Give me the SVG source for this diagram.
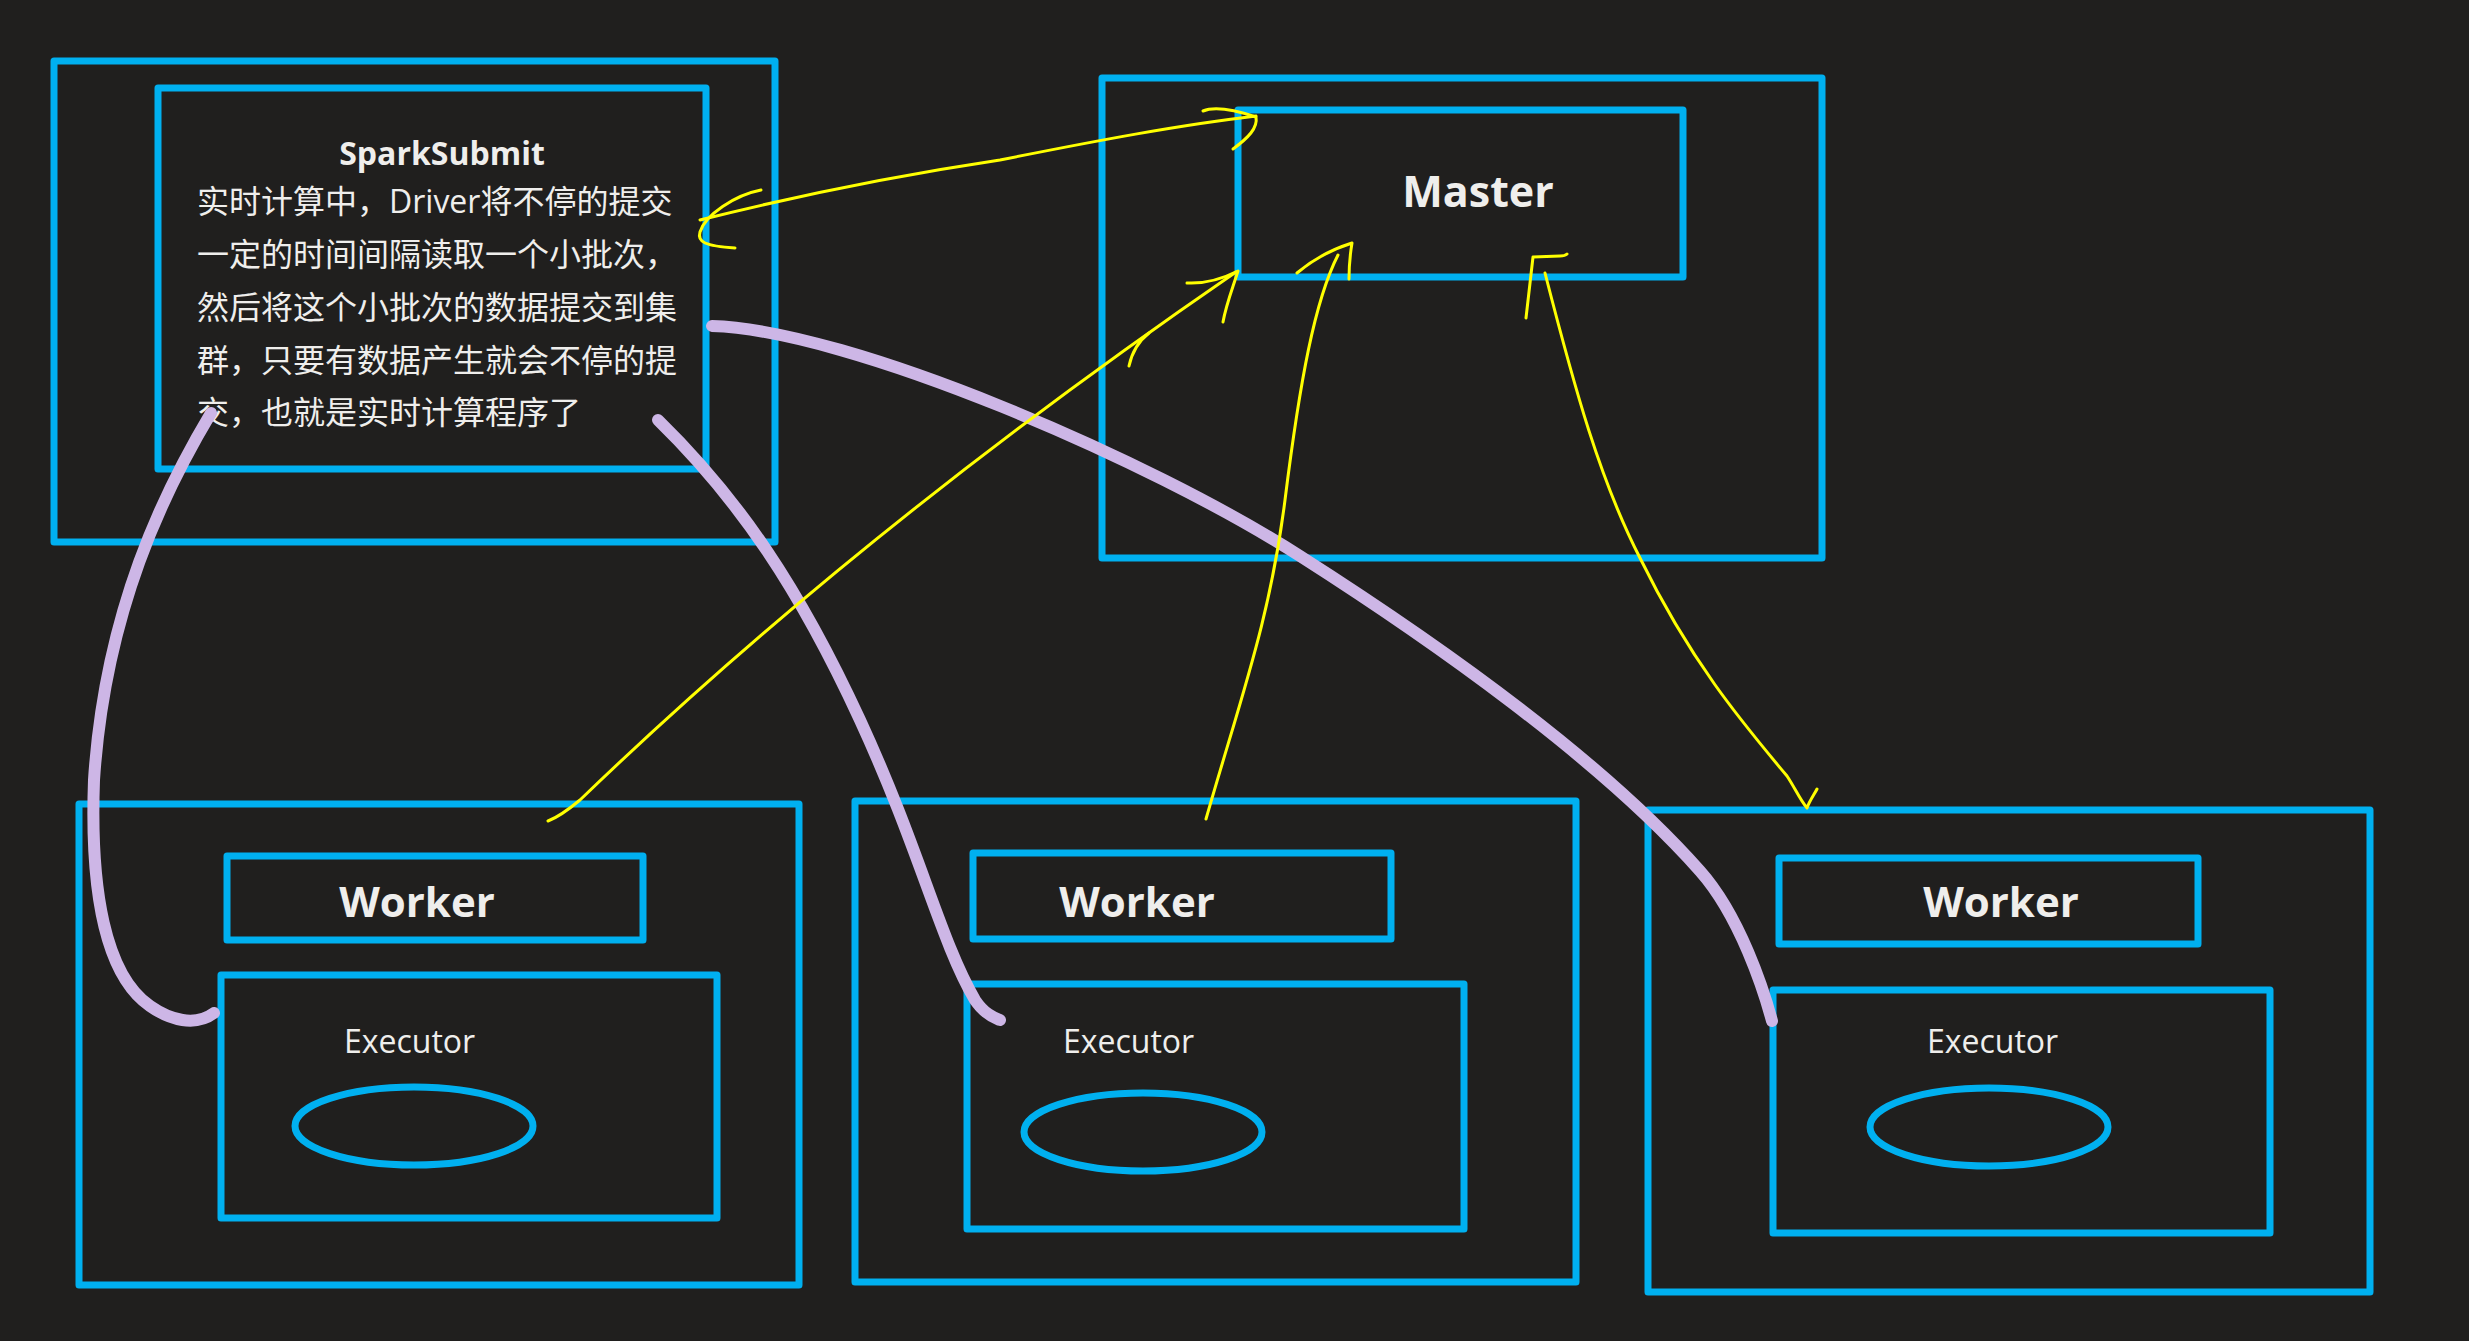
<svg xmlns="http://www.w3.org/2000/svg" width="2469" height="1341" viewBox="0 0 2469 1341">
<style>
.box{fill:none;stroke:#00B0F0;stroke-width:7;stroke-linejoin:round}
.ell{fill:none;stroke:#00B0F0;stroke-width:7}
.y{fill:none;stroke:#FFFF00;stroke-width:3;stroke-linecap:round;stroke-linejoin:round}
.p{fill:none;stroke:#CDB6E6;stroke-width:12;stroke-linecap:round;stroke-linejoin:round}
.t{font-family:"Open Sans","Noto Sans CJK SC",sans-serif;fill:#EFEEEC}
.b{font-weight:bold}
</style>
<rect x="0" y="0" width="2469" height="1341" fill="#201F1E"/>
<g id="driver">
<rect class="box" x="54" y="61" width="721" height="481"/>
<rect class="box" x="158" y="88" width="548" height="381"/>
<text class="t b" x="442" y="165" font-size="32" text-anchor="middle">SparkSubmit</text>
<text class="t" font-size="32">
<tspan x="197" y="213">实时计算中，Driver将不停的提交</tspan>
<tspan x="197" y="266">一定的时间间隔读取一个小批次，</tspan>
<tspan x="197" y="319">然后将这个小批次的数据提交到集</tspan>
<tspan x="197" y="372">群，只要有数据产生就会不停的提</tspan>
<tspan x="197" y="424">交，也就是实时计算程序了</tspan>
</text>
</g>
<g id="master">
<rect class="box" x="1102" y="78" width="720" height="480"/>
<rect class="box" x="1238" y="110" width="445" height="167"/>
<text class="t b" x="1478" y="207" font-size="43" text-anchor="middle">Master</text>
</g>
<g id="worker1">
<rect class="box" x="79" y="804" width="720" height="481"/>
<rect class="box" x="227" y="856" width="416" height="84"/>
<text class="t b" x="417" y="917" font-size="42" text-anchor="middle">Worker</text>
<rect class="box" x="221" y="975" width="496" height="243"/>
<text class="t" x="344" y="1053" font-size="32">Executor</text>
<ellipse class="ell" cx="414" cy="1126" rx="119" ry="39"/>
</g>
<g id="worker2">
<rect class="box" x="855" y="801" width="721" height="481"/>
<rect class="box" x="973" y="853" width="418" height="86"/>
<text class="t b" x="1137" y="917" font-size="42" text-anchor="middle">Worker</text>
<rect class="box" x="967" y="984" width="497" height="245"/>
<text class="t" x="1063" y="1053" font-size="32">Executor</text>
<ellipse class="ell" cx="1143" cy="1132" rx="119" ry="39"/>
</g>
<g id="worker3">
<rect class="box" x="1648" y="810" width="722" height="482"/>
<rect class="box" x="1779" y="858" width="419" height="86"/>
<text class="t b" x="2001" y="917" font-size="42" text-anchor="middle">Worker</text>
<rect class="box" x="1773" y="990" width="497" height="243"/>
<text class="t" x="1927" y="1053" font-size="32">Executor</text>
<ellipse class="ell" cx="1989" cy="1127" rx="119" ry="39"/>
</g>
<g id="connectors">
<path class="p" d="M 211,413 C 165,490 105,610 94,780 C 90,890 105,975 150,1006 C 170,1020 195,1027 214,1013"/>
<path class="p" d="M 658,420 C 740,500 800,590 860,720 C 920,850 940,940 975,1000 C 985,1015 995,1018 1000,1020"/>
<path class="p" d="M 712,326 C 850,330 1150,460 1300,556 C 1430,639 1600,758 1700,871 C 1740,916 1764,991 1772,1021"/>
<path class="y" d="M 700,220 C 800,195 900,175 1000,160 C 1100,140 1180,125 1256,116"/>
<path class="y" d="M 761,190 C 735,195 705,215 700,232 C 697,242 705,246 735,248"/>
<path class="y" d="M 1203,111 C 1215,106 1235,110 1256,117 C 1258,128 1248,138 1233,149"/>
<path class="y" d="M 548,821 C 556,818 568,810 580,800 Q 860,530 1236,272"/>
<path class="y" d="M 1187,283 C 1205,284 1220,280 1238,271 C 1232,290 1226,305 1223,322"/>
<path class="y" d="M 1149,333 C 1140,340 1132,352 1129,366"/>
<path class="y" d="M 1206,819 C 1240,700 1270,620 1285,500 C 1300,380 1315,300 1338,255"/>
<path class="y" d="M 1297,273 C 1310,262 1330,250 1352,243 C 1350,255 1349,268 1349,279"/>
<path class="y" d="M 1545,273 C 1575,390 1600,480 1640,558 C 1690,660 1740,720 1787,776 C 1795,788 1800,800 1807,808 C 1810,800 1814,795 1817,789"/>
<path class="y" d="M 1526,318 L 1533,257 L 1560,256 C 1564,256 1566,255 1567,254"/>
</g>
</svg>
